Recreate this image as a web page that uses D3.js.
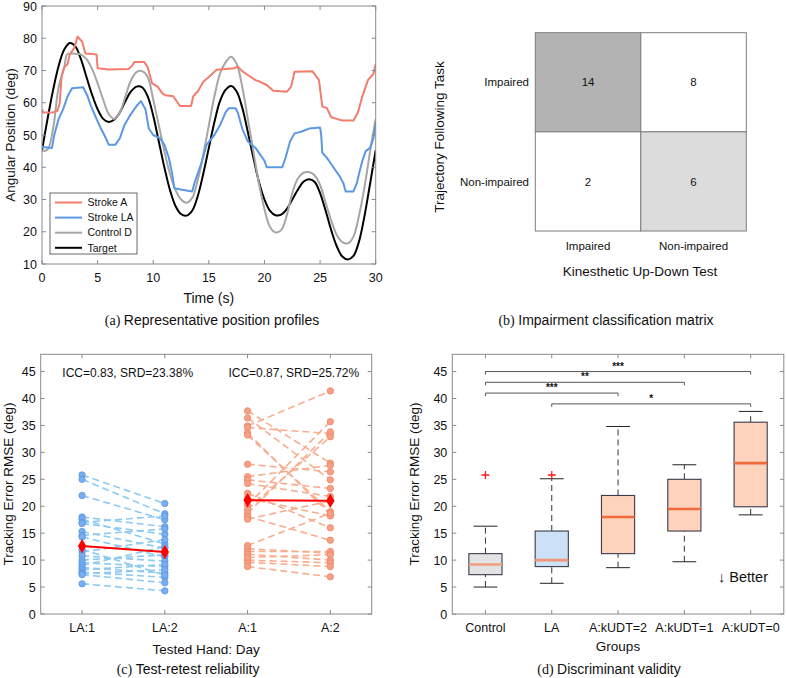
<!DOCTYPE html>
<html><head><meta charset="utf-8">
<script src="https://cdn.jsdelivr.net/npm/d3@7"></script>
<style>
body{margin:0;background:#fff}
svg{display:block}
text{font-family:"Liberation Sans",Arial,Helvetica,sans-serif;fill:#111}
</style></head>
<body><svg id="chart" width="787" height="678"></svg>
<script>
// ---------- DATA ----------
// Panel (a): time [s], angle [deg]
const targetProfile = [[0,45.3],[0.5,55],[1,64],[1.5,71.5],[2,76.5],[2.5,78.5],[3,77.5],[3.5,73.5],[4,68],[4.5,62.5],[5,58],[5.5,55],[6,54],[6.5,54.8],[7,57],[7.5,60.5],[8,63.5],[8.5,65],[9,64.8],[9.5,62],[10,56],[10.5,48],[11,40],[11.5,33],[12,28],[12.5,25.5],[13,25],[13.5,26.5],[14,31],[14.5,38],[15,46],[15.5,54],[16,60.5],[16.5,64],[17,65.2],[17.5,63.5],[18,58.5],[18.5,51],[19,43],[19.5,35.5],[20,30],[20.5,26.5],[21,25.1],[21.5,25.3],[22,27],[22.5,30],[23,33],[23.5,35.5],[24,36.3],[24.5,35.5],[25,32],[25.5,26.5],[26,20.5],[26.5,15.5],[27,12.3],[27.5,11.4],[28,12.5],[28.5,17],[29,25],[29.5,35],[30,45.3]];
const controlD = [[0,45],[0.5,45.5],[1,52],[1.5,65],[2,71],[2.25,75],[2.5,75.2],[3,75.2],[3.5,75],[4,73.5],[4.5,70.5],[5,66],[5.5,61],[6,56.5],[6.5,55],[7,57],[7.5,62],[8,67],[8.5,69.5],[9,69.8],[9.5,68],[10,61],[10.5,53],[11,45],[11.5,38],[12,33],[12.5,30],[13,29],[13.5,30.5],[14,36],[14.5,44],[15,53],[15.5,62],[16,69],[16.5,72.5],[17,74.3],[17.5,72],[18,65],[18.5,55],[19,45],[19.5,35],[20,27],[20.5,21.5],[21,19.8],[21.5,20.5],[22,25],[22.5,32],[23,36.5],[23.5,38.3],[24,38.5],[24.5,37.5],[25,34.5],[25.5,29],[26,23.5],[26.5,19],[27,16.8],[27.5,16.4],[28,18.5],[28.5,25],[29,34],[29.5,45],[30,55]];
const strokeA = [[0,58],[0.1,57],[1.0,57],[1.4,57.5],[1.6,60],[1.75,68],[2.0,71],[2.3,72],[2.5,75],[2.9,77],[3.2,80.5],[3.6,79],[3.9,75.3],[4.9,75],[5.0,70.7],[6,70.3],[7.8,70.5],[8.1,71.5],[8.3,72.6],[9.2,72.6],[9.5,71],[9.9,66],[10.4,65],[10.8,63],[11.1,62.3],[11.8,62],[12.0,61],[12.4,59],[13.4,59],[13.6,62],[14.0,63.5],[14.5,66.5],[15.0,68],[15.7,70.2],[17.3,70.7],[17.6,71.2],[18.0,69.8],[18.5,68.6],[19.2,67],[19.6,66.5],[20.2,65.5],[20.8,63.7],[22.0,63.4],[22.4,65],[22.7,69.6],[24.3,69.8],[24.9,67],[25.2,58.8],[25.6,58.4],[26.0,55.5],[26.5,55],[27.0,54.5],[28.0,54.5],[28.4,57],[28.8,62],[29.3,67],[29.8,69],[30,72]];
const strokeLA = [[0,46.3],[0.9,46],[1.1,50],[1.5,55],[1.9,58],[2.3,62],[2.7,64.5],[3.7,64.8],[4.1,62],[4.4,59],[4.9,55],[5.3,52],[5.6,50],[6.0,47],[6.6,47],[7.0,49],[7.4,53],[7.9,56],[8.5,59],[8.9,60.5],[9.3,58],[9.6,52],[10.0,50],[10.6,49],[11.0,47],[11.4,43],[11.7,38],[11.9,33.5],[12.6,33],[13.5,32.5],[13.7,35],[14.0,38],[14.4,42],[14.8,47],[15.5,50],[16.0,53],[16.5,57],[16.8,58.3],[17.4,58.3],[17.6,57],[18.0,52],[18.5,48],[19.2,46],[19.6,44],[20.0,42],[20.2,40],[21.6,40],[21.9,43],[22.3,48],[22.7,50.5],[23.3,51],[24.0,52],[25.0,52.3],[25.1,50],[25.2,44.5],[25.6,43],[26.0,41],[26.4,39],[26.8,37],[27.1,35],[27.3,32.5],[28.0,32.5],[28.3,35],[28.5,38],[28.8,42],[29.1,45],[29.5,46],[29.8,49],[30,54]];
const seriesNames = ["Stroke A","Stroke LA","Control D","Target"];

// Panel (b): confusion matrix
const kudtLabels = ["Impaired","Non-impaired"];
const tftLabels = ["Impaired","Non-impaired"];
const matrixCounts = [[14,8],[2,6]];

// Panel (c): test-retest
const dayLabels = ["LA:1","LA:2","A:1","A:2"];
const pairsLA = [[25.8,20.5],[25.0,18.6],[22.0,17.5],[18.0,16.2],[17.6,13.0],[17.0,18.2],[16.8,14.8],[15.3,12.2],[14.6,15.8],[14.3,10.6],[11.5,13.8],[10.8,9.8],[10.0,11.0],[9.5,8.8],[9.0,12.5],[8.6,7.6],[8.2,9.2],[7.8,6.8],[7.5,8.2],[7.3,5.8],[5.6,4.3],[12.0,7.2]];
const pairsA = [[37.7,28.0],[36.4,24.9],[34.9,41.4],[34.6,33.5],[33.6,18.5],[33.2,19.0],[27.8,26.4],[25.5,27.6],[24.9,23.3],[24.2,21.8],[22.4,16.0],[21.5,18.2],[20.2,35.7],[19.4,32.9],[18.7,33.8],[18.1,13.7],[17.6,21.0],[12.7,18.7],[12.1,11.3],[11.6,11.6],[11.1,10.0],[10.0,9.5],[9.6,8.8],[8.8,6.9],[10.5,11.0]];
const meanLA = [12.6,11.5];
const meanA = [21.1,21.0];
const iccLabels = ["ICC=0.83, SRD=23.38%","ICC=0.87, SRD=25.72%"];

// Panel (d): box plots [lowWhisker, q1, median, q3, highWhisker]
const groupNames = ["Control","LA","A:kUDT=2","A:kUDT=1","A:kUDT=0"];
const boxStats = [[5.0,7.3,9.2,11.2,16.3],[5.7,8.8,10.0,15.4,25.1],[8.6,11.2,18.0,22.0,34.8],[9.7,15.4,19.5,25.0,27.7],[18.4,19.9,28.0,35.6,37.6]];
const outliers = [[25.8],[25.8],[],[],[]];
const sigBrackets = [[1,5,45,"***"],[1,4,43,"**"],[1,3,41,"***"],[2,5,39,"*"]];

// ---------- DRAW ----------
const svg = d3.select("#chart");
const AX = "#8a8a8a";
const FS = 12.5;

function boxAxes(g, x, y, xt, yt, xfmt, yfmt){
  const [x0,x1] = x.range(), [y0,y1] = y.range();
  g.append("rect").attr("x",x0).attr("y",y1).attr("width",x1-x0).attr("height",y0-y1)
    .attr("fill","none").attr("stroke",AX).attr("stroke-width",1);
  const tl = 4;
  xt.forEach(v=>{
    const px = x(v);
    g.append("line").attr("x1",px).attr("x2",px).attr("y1",y0).attr("y2",y0-tl).attr("stroke",AX);
    g.append("line").attr("x1",px).attr("x2",px).attr("y1",y1).attr("y2",y1+tl).attr("stroke",AX);
    g.append("text").attr("x",px).attr("y",y0+18).attr("text-anchor","middle").attr("font-size",FS).text(xfmt(v));
  });
  yt.forEach(v=>{
    const py = y(v);
    g.append("line").attr("x1",x0).attr("x2",x0+tl).attr("y1",py).attr("y2",py).attr("stroke",AX);
    g.append("line").attr("x1",x1).attr("x2",x1-tl).attr("y1",py).attr("y2",py).attr("stroke",AX);
    g.append("text").attr("x",x0-5).attr("y",py).attr("dy","0.36em").attr("text-anchor","end").attr("font-size",FS).text(yfmt(v));
  });
}
function caption(x, y, tag, txt){
  const t = svg.append("text").attr("x",x).attr("y",y).attr("text-anchor","middle").attr("font-size",14);
  t.append("tspan").style("font-family","'Liberation Serif','Times New Roman',serif").text("("+tag+") ");
  t.append("tspan").text(txt);
}
function yTitle(x, cy, txt, fs){
  svg.append("text").attr("transform",`translate(${x},${cy}) rotate(-90)`).attr("text-anchor","middle")
    .attr("dy","0.35em").attr("font-size",fs||13.5).text(txt);
}

// ===== Panel (a) =====
{
  const x = d3.scaleLinear().domain([0,30]).range([42,375.7]);
  const y = d3.scaleLinear().domain([10,90]).range([264,6]);
  const g = svg.append("g");
  svg.append("clipPath").attr("id","clipA").append("rect").attr("x",42).attr("y",6).attr("width",333.7).attr("height",258);
  const line = d3.line().x(d=>x(d[0])).y(d=>y(d[1]));
  const smooth = d3.line().x(d=>x(d[0])).y(d=>y(d[1])).curve(d3.curveCatmullRom);
  const lines = [[strokeA,"#f47c6c",line],[strokeLA,"#5c97e6",line],[controlD,"#a6a6a6",smooth],[targetProfile,"#000",smooth]];
  const lg = g.append("g").attr("clip-path","url(#clipA)");
  [lines[3],lines[2],lines[1],lines[0]].forEach(([d,c,l])=>{
    lg.append("path").attr("d",l(d)).attr("fill","none").attr("stroke",c).attr("stroke-width",2).attr("stroke-linejoin","round");
  });
  boxAxes(g, x, y, d3.range(0,31,5), d3.range(10,91,10), d=>d, d=>d);
  // legend
  const L = g.append("g");
  L.append("rect").attr("x",50).attr("y",193).attr("width",87).attr("height",61).attr("fill","#fff").attr("stroke","#444").attr("stroke-width",0.8);
  seriesNames.forEach((n,i)=>{
    const yy = 202.5 + i*15.1;
    L.append("line").attr("x1",55).attr("x2",82).attr("y1",yy).attr("y2",yy).attr("stroke",lines[i][1]).attr("stroke-width",2);
    L.append("text").attr("x",87.5).attr("y",yy).attr("dy","0.36em").attr("font-size",10.5).text(n);
  });
  svg.append("text").attr("x",208.8).attr("y",302.5).attr("text-anchor","middle").attr("font-size",14).text("Time (s)");
  yTitle(10, 135, "Angular Position (deg)");
  caption(212, 324.5, "a", "Representative position profiles");
}

// ===== Panel (b) =====
{
  const x = d3.scaleBand().domain(kudtLabels).range([535.3,746.3]);
  const y = d3.scaleBand().domain(tftLabels).range([32.7,231]);
  const fills = [["#b3b3b3","#ffffff"],["#ffffff","#dcdcdc"]];
  const g = svg.append("g");
  tftLabels.forEach((r,i)=>kudtLabels.forEach((c,j)=>{
    g.append("rect").attr("x",x(c)).attr("y",y(r)).attr("width",x.bandwidth()).attr("height",y.bandwidth())
      .attr("fill",fills[i][j]).attr("stroke","#7d7d7d").attr("stroke-width",1);
    g.append("text").attr("x",x(c)+x.bandwidth()/2).attr("y",y(r)+y.bandwidth()/2).attr("dy","0.36em")
      .attr("text-anchor","middle").attr("font-size",11.5).text(matrixCounts[i][j]);
  }));
  tftLabels.forEach(r=>{
    g.append("text").attr("x",529).attr("y",y(r)+y.bandwidth()/2).attr("dy","0.36em").attr("text-anchor","end").attr("font-size",11.5).text(r);
  });
  kudtLabels.forEach(c=>{
    g.append("text").attr("x",x(c)+x.bandwidth()/2).attr("y",245.7).attr("dy","0.36em").attr("text-anchor","middle").attr("font-size",11.5).text(c);
  });
  svg.append("text").attr("x",640).attr("y",271).attr("dy","0.36em").attr("text-anchor","middle").attr("font-size",13.5).text("Kinesthetic Up-Down Test");
  yTitle(439.5, 137, "Trajectory Following Task");
  caption(606, 324.5, "b", "Impairment classification matrix");
}

// ===== Panel (c) =====
{
  const x = d3.scaleLinear().domain([0.5,4.5]).range([40.7,371.7]);
  const y = d3.scaleLinear().domain([0,48.2]).range([614,354.3]);
  const g = svg.append("g");
  const dash = "7,4";
  const drawPairs = (pairs, p0, lc, fc, sc)=>{
    pairs.forEach(p=>{
      g.append("line").attr("x1",x(p0)).attr("x2",x(p0+1)).attr("y1",y(p[0])).attr("y2",y(p[1]))
        .attr("stroke",lc).attr("stroke-width",1.6).attr("stroke-dasharray",dash);
    });
    pairs.forEach(p=>{
      [0,1].forEach(k=>g.append("circle").attr("cx",x(p0+k)).attr("cy",y(p[k])).attr("r",3.2)
        .attr("fill",fc).attr("stroke",sc).attr("stroke-width",0.8));
    });
  };
  drawPairs(pairsLA, 1, "#8ccaf2", "#79aef0", "#5b95e2");
  drawPairs(pairsA, 3, "#f9ad8f", "#f6a086", "#f08566");
  [[meanLA,1],[meanA,3]].forEach(([m,p0])=>{
    g.append("line").attr("x1",x(p0)).attr("x2",x(p0+1)).attr("y1",y(m[0])).attr("y2",y(m[1])).attr("stroke","#ff0000").attr("stroke-width",2);
    m.forEach((v,k)=>g.append("path").attr("d",d3.symbol(d3.symbolDiamond,60)()).attr("transform",`translate(${x(p0+k)},${y(v)})`).attr("fill","#ff0000"));
  });
  boxAxes(g, x, y, [1,2,3,4], d3.range(0,46,5), d=>dayLabels[d-1], d=>d);
  iccLabels.forEach((t,i)=>{
    g.append("text").attr("x",[127.7,293.8][i]).attr("y",372.3).attr("dy","0.36em").attr("text-anchor","middle").attr("font-size",12).text(t);
  });
  svg.append("text").attr("x",206.2).attr("y",653.5).attr("text-anchor","middle").attr("font-size",13.5).text("Tested Hand: Day");
  yTitle(8, 484, "Tracking Error RMSE (deg)");
  caption(188, 674, "c", "Test-retest reliability");
}

// ===== Panel (d) =====
{
  const x = d3.scaleLinear().domain([0.5,5.5]).range([452.3,783.8]);
  const y = d3.scaleLinear().domain([0,48.2]).range([614,354.3]);
  const g = svg.append("g");
  const boxFill = ["#e3e3e3","#cde1f6","#fdd3bd","#fdd3bd","#fdd3bd"];
  const medCol = ["#f0a07e","#ef9578","#f06a3c","#f06a3c","#f06a3c"];
  const hw = 0.25, cw = 0.18;
  boxStats.forEach((s,i)=>{
    const c = i+1;
    g.append("line").attr("x1",x(c)).attr("x2",x(c)).attr("y1",y(s[0])).attr("y2",y(s[1])).attr("stroke","#333").attr("stroke-dasharray","6,4").attr("stroke-width",1);
    g.append("line").attr("x1",x(c)).attr("x2",x(c)).attr("y1",y(s[3])).attr("y2",y(s[4])).attr("stroke","#333").attr("stroke-dasharray","6,4").attr("stroke-width",1);
    [s[0],s[4]].forEach(v=>g.append("line").attr("x1",x(c-cw)).attr("x2",x(c+cw)).attr("y1",y(v)).attr("y2",y(v)).attr("stroke","#222").attr("stroke-width",1));
    g.append("rect").attr("x",x(c-hw)).attr("y",y(s[3])).attr("width",x(c+hw)-x(c-hw)).attr("height",y(s[1])-y(s[3]))
      .attr("fill",boxFill[i]).attr("stroke","#3a3a4a").attr("stroke-width",1.1);
    g.append("line").attr("x1",x(c-hw)).attr("x2",x(c+hw)).attr("y1",y(s[2])).attr("y2",y(s[2])).attr("stroke",medCol[i]).attr("stroke-width",2.6);
    outliers[i].forEach(v=>{
      g.append("path").attr("d",`M${x(c)-4},${y(v)}H${x(c)+4}M${x(c)},${y(v)-4}V${y(v)+4}`).attr("stroke","#ff1a1a").attr("stroke-width",1.3);
    });
  });
  sigBrackets.forEach(([a,b,v,s])=>{
    g.append("path").attr("d",`M${x(a)},${y(v)+3}V${y(v)}H${x(b)}V${y(v)+3}`).attr("fill","none").attr("stroke","#555").attr("stroke-width",1);
    g.append("text").attr("x",(x(a)+x(b))/2).attr("y",y(v)-2).attr("text-anchor","middle").attr("font-size",10).attr("font-weight","bold").text(s);
  });
  boxAxes(g, x, y, [1,2,3,4,5], d3.range(0,46,5), d=>groupNames[d-1], d=>d);
  g.append("text").attr("x",743).attr("y",577).attr("dy","0.36em").attr("text-anchor","middle").attr("font-size",14.5).text("↓ Better");
  svg.append("text").attr("x",618).attr("y",651).attr("text-anchor","middle").attr("font-size",13.5).text("Groups");
  yTitle(414, 484, "Tracking Error RMSE (deg)");
  caption(609, 674, "d", "Discriminant validity");
}
</script></body></html>
